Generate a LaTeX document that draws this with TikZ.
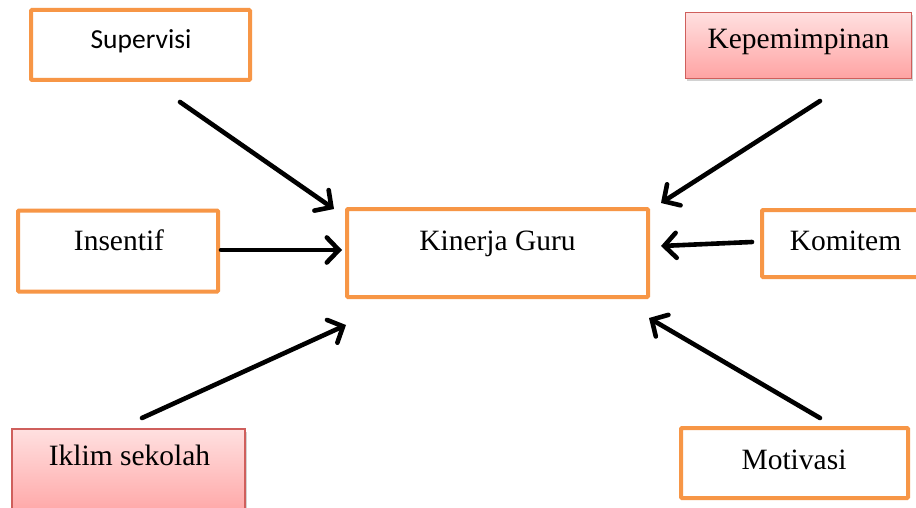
\documentclass[tikz,border=0pt]{standalone}
\usepackage{fontspec}
\setmainfont{Liberation Serif}
\newfontfamily\calfont{Carlito}
\usetikzlibrary{arrows.meta,shadows}
\definecolor{orangeb}{HTML}{F79646}
\definecolor{redb}{HTML}{CF5F5C}
\definecolor{pinktop}{HTML}{FFE0E0}
\definecolor{pinkbot}{HTML}{FFA3A3}
\tikzset{
  obox/.style={draw=orangeb, line width=4pt, fill=white, rounded corners=1pt, inner sep=0pt},
  pbox/.style={draw=redb, line width=1.5pt, top color=pinktop, bottom color=pinkbot, inner sep=0pt,
    drop shadow={opacity=0.35, shadow xshift=1.5pt, shadow yshift=-3pt}},
  lbl/.style={font=\fontsize{29.5}{32}\selectfont, inner sep=0pt, anchor=base},
  arr/.style={line width=4.6pt, line cap=round, -{Straight Barb[length=12pt,width=25pt,line cap=round]}}
}
\begin{document}
\begin{tikzpicture}[x=1pt,y=-1pt]
\clip (0,0) rectangle (916,508);
\fill[white] (0,0) rectangle (916,508);
% boxes
\node[obox, minimum width=219pt, minimum height=70pt] (sup) at (140.5,45) {};
\node[pbox, minimum width=226pt, minimum height=66pt] (kep) at (798.5,45.5) {};
\node[obox, minimum width=200pt, minimum height=81pt] (ins) at (118,251) {};
\node[obox, minimum width=301pt, minimum height=88pt] (kin) at (497.5,253) {};
\node[obox, minimum width=170pt, minimum height=67pt] (kom) at (847,243.5) {};
\node[pbox, minimum width=233pt, minimum height=90pt] (ikl) at (128.5,474) {};
\node[obox, minimum width=227pt, minimum height=70pt] (mot) at (794.5,463) {};
% labels
\node[lbl, font=\calfont\fontsize{27.5}{30}\selectfont] (tsup) at (141,49) {Supervisi};
\node[lbl] (tkep) at (798.5,49) {Kepemimpinan};
\node[lbl] (tins) at (119,250) {Insentif};
\node[lbl] (tkin) at (497.5,250) {Kinerja Guru};
\node[lbl] (tkom) at (845.5,250) {Komitem};
\node[lbl] (tikl) at (129.5,465) {Iklim sekolah};
\node[lbl] (tmot) at (794,469) {Motivasi};
% arrow endpoints
\coordinate (a1s) at (180,102); \coordinate (a1e) at (334,209);
\coordinate (a2s) at (221,250); \coordinate (a2e) at (342,250);
\coordinate (a3s) at (142,418); \coordinate (a3e) at (346,325);
\coordinate (a4s) at (820,101); \coordinate (a4e) at (661,203);
\coordinate (a5s) at (752,242); \coordinate (a5e) at (661,246);
\coordinate (a6s) at (820,418); \coordinate (a6e) at (649,318);
\draw[arr] (a1s) -- (a1e);
\draw[arr] (a2s) -- (a2e);
\draw[arr] (a3s) -- (a3e);
\draw[arr] (a4s) -- (a4e);
\draw[arr] (a5s) -- (a5e);
\draw[arr] (a6s) -- (a6e);
\end{tikzpicture}
\end{document}
